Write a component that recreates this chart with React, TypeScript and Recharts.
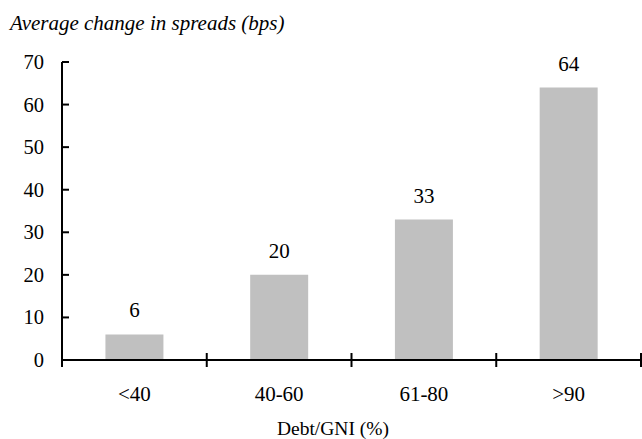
import { BarChart, Bar, XAxis, YAxis, LabelList } from "recharts";

const CATEGORIES = ["<40", "40-60", "61-80", ">90"];
const SPREAD_CHANGE = [6, 20, 33, 64];
const Y_TICKS = [0, 10, 20, 30, 40, 50, 60, 70];

const data = CATEGORIES.map((name, i) => ({ name, value: SPREAD_CHANGE[i] }));

const FONT = "Liberation Serif";
const W = 642;
const H = 439;
const MARGIN = { top: 62, right: 1, left: 0, bottom: 0 };
const Y_WIDTH = 62;
const BAND = (W - MARGIN.right - Y_WIDTH) / CATEGORIES.length;

function XTick(props: any) {
  const { x, y, payload, index } = props;
  const left = x - BAND / 2;
  return (
    <g>
      <line x1={left} x2={left} y1={y - 7} y2={y + 7} stroke="#000" strokeWidth={2} />
      {index === CATEGORIES.length - 1 && (
        <line x1={x + BAND / 2} x2={x + BAND / 2} y1={y - 7} y2={y + 7} stroke="#000" strokeWidth={2} />
      )}
      <text x={x} y={y + 41} textAnchor="middle" style={{ fontSize: 21, fontFamily: FONT }} fill="#000">
        {payload.value}
      </text>
    </g>
  );
}

function YTick(props: any) {
  const { x, y, payload } = props;
  return (
    <g>
      <line x1={x} x2={x + 7} y1={y} y2={y} stroke="#000" strokeWidth={2} />
      <text x={x - 18} y={y + 7} textAnchor="end" style={{ fontSize: 20.5, fontFamily: FONT }} fill="#000">
        {payload.value}
      </text>
    </g>
  );
}

export default function App() {
  return (
    <div style={{ position: "absolute", left: 0, top: 0, width: W, height: H, background: "#fff" }}>
      <div
        style={{
          position: "absolute",
          left: 10,
          top: 11,
          fontFamily: FONT,
          fontStyle: "italic",
          fontSize: 21,
          lineHeight: "24px",
          color: "#000",
          whiteSpace: "nowrap",
        }}
      >
        Average change in spreads (bps)
      </div>
      <BarChart width={W} height={H} data={data} margin={MARGIN} barCategoryGap="30%">
        <XAxis
          dataKey="name"
          height={79}
          tickSize={0}
          tickMargin={0}
          tickLine={false}
          axisLine={{ stroke: "#000", strokeWidth: 2 }}
          tick={<XTick />}
          interval={0}
        />
        <YAxis
          width={Y_WIDTH}
          domain={[0, 70]}
          ticks={Y_TICKS}
          tickSize={0}
          tickMargin={0}
          tickLine={false}
          axisLine={{ stroke: "#000", strokeWidth: 2 }}
          tick={<YTick />}
          interval={0}
        />
        <Bar dataKey="value" fill="#c0c0c0" isAnimationActive={false}>
          <LabelList
            dataKey="value"
            position="top"
            offset={17}
            style={{ fontSize: 21, fontFamily: FONT }}
            fill="#000"
          />
        </Bar>
      </BarChart>
      <div
        style={{
          position: "absolute",
          left: 333,
          top: 418,
          transform: "translateX(-50%)",
          fontFamily: FONT,
          fontSize: 19.5,
          lineHeight: "22px",
          color: "#000",
          whiteSpace: "nowrap",
        }}
      >
        Debt/GNI (%)
      </div>
    </div>
  );
}
